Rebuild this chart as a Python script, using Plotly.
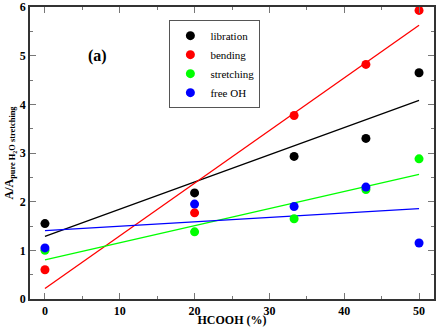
import numpy as np
import plotly.graph_objects as go

# HCOOH fraction (%) and relative areas
hcooh = [0, 20, 33.3, 42.9, 50]
libration = [1.55, 2.18, 2.93, 3.30, 4.65]
bending = [0.60, 1.77, 3.77, 4.82, 5.93]
stretching = [1.00, 1.38, 1.65, 2.25, 2.88]
free_oh = [1.05, 1.95, 1.90, 2.30, 1.15]

SERIES = [("libration", libration, "#000000"),
          ("bending", bending, "#ff0000"),
          ("stretching", stretching, "#00ff00"),
          ("free OH", free_oh, "#0000ff")]

FONT = "Liberation Serif, Times New Roman, DejaVu Serif, serif"
AX_CLR = "#333333"

fig = go.Figure()

# linear fits first so the dots sit on top
x_fit = np.array([min(hcooh), max(hcooh)])
for name, ys, clr in SERIES:
    k, b = np.polyfit(hcooh, ys, 1)
    fig.add_trace(go.Scatter(x=x_fit, y=k * x_fit + b, mode="lines", line=dict(color=clr, width=1.3),
                             showlegend=False, hoverinfo="skip"))

for name, ys, clr in SERIES:
    fig.add_trace(go.Scatter(x=hcooh, y=ys, mode="markers", name=name,
                             marker=dict(color=clr, size=9, line=dict(width=0))))

axis_common = dict(showgrid=False, zeroline=False, showline=True, linecolor=AX_CLR, linewidth=1.5,
                   mirror="allticks", ticks="inside", ticklen=6, tickwidth=1, tickcolor="#777777",
                   ticklabeloverflow="allow",
                   tickfont=dict(family=FONT, size=12, color="black", weight="bold"))

fig.update_xaxes(range=[-2, 52], dtick=10, tick0=0,
                 minor=dict(ticks="inside", dtick=5, ticklen=3, tickcolor="#777777"),
                 title=dict(text="<b>HCOOH (%)</b>", font=dict(family=FONT, size=12, color="black"), standoff=0),
                 **axis_common)
fig.update_yaxes(range=[0, 6], dtick=1, tick0=0,
                 minor=dict(ticks="inside", dtick=0.5, ticklen=3, tickcolor="#777777"),
                 title=dict(text="<b>A/A<sub>pure H<sub>2</sub>O stretching</sub></b>",
                            font=dict(family=FONT, size=12, color="black"), standoff=4),
                 **axis_common)

fig.add_annotation(x=7, y=5.0, text="<b>(a)</b>", showarrow=False,
                   font=dict(family=FONT, size=16, color="black"))

fig.update_layout(width=436, height=327, margin=dict(l=30, r=2, t=7, b=28, autoexpand=False),
                  plot_bgcolor="white", paper_bgcolor="white",
                  legend=dict(x=0.345, y=0.955, xanchor="left", yanchor="top", bgcolor="white",
                              bordercolor="#555555", borderwidth=1, tracegroupgap=0, itemwidth=30,
                              font=dict(family=FONT, size=11, color="black")))

fig.write_html("out.html", config={"displayModeBar": False},
               post_script="document.body.style.margin='0';")
